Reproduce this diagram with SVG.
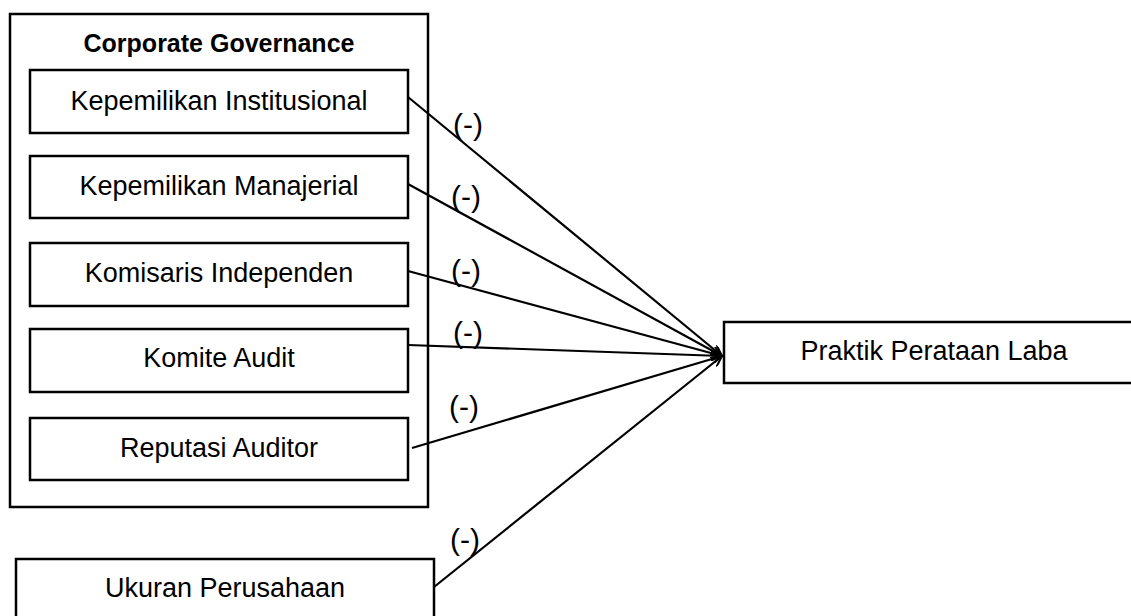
<svg xmlns="http://www.w3.org/2000/svg" width="1131" height="616" viewBox="0 0 1131 616">
<style>
.box{fill:#fff;stroke:#000;stroke-width:2.5}
.t{font-family:"Liberation Sans",Arial,sans-serif;font-size:27px;fill:#000;text-anchor:middle}
.p{font-family:"Liberation Sans",Arial,sans-serif;font-size:30px;fill:#000;text-anchor:middle}
.title{font-family:"Liberation Sans",Arial,sans-serif;font-size:25px;font-weight:bold;fill:#000;text-anchor:middle}
.c{stroke:#000;stroke-width:2.2;fill:none;marker-end:url(#ah)}
</style>
<defs>
<marker id="ah" viewBox="0 0 12 10" refX="11" refY="5" markerWidth="12" markerHeight="10" markerUnits="userSpaceOnUse" orient="auto">
<path d="M0,0 L11,5 L0,10" fill="none" stroke="#000" stroke-width="2"/>
</marker>
</defs>
<rect width="1131" height="616" fill="#fff"/>
<g id="cg">
<rect class="box" x="10" y="14" width="418" height="493"/>
<text class="title" x="219" y="52">Corporate Governance</text>
</g>
<g id="n1"><rect class="box" x="30" y="70" width="378" height="63"/><text class="t" x="219" y="110">Kepemilikan Institusional</text></g>
<g id="n2"><rect class="box" x="30" y="156" width="378" height="62"/><text class="t" x="219" y="195">Kepemilikan Manajerial</text></g>
<g id="n3"><rect class="box" x="30" y="243" width="378" height="63"/><text class="t" x="219" y="282">Komisaris Independen</text></g>
<g id="n4"><rect class="box" x="30" y="329" width="378" height="63"/><text class="t" x="219" y="367">Komite Audit</text></g>
<g id="n5"><rect class="box" x="30" y="418" width="378" height="62"/><text class="t" x="219" y="457">Reputasi Auditor</text></g>
<g id="n6"><rect class="box" x="16" y="559" width="418" height="70"/><text class="t" x="225" y="597">Ukuran Perusahaan</text></g>
<g id="n7"><rect class="box" x="724" y="322" width="420" height="61"/><text class="t" x="934" y="360">Praktik Perataan Laba</text></g>
<g id="connectors">
<line class="c" x1="408" y1="97" x2="722" y2="356"/>
<line class="c" x1="408" y1="184" x2="722" y2="356"/>
<line class="c" x1="408" y1="271" x2="722" y2="356"/>
<line class="c" x1="408" y1="345" x2="722" y2="356"/>
<line class="c" x1="412" y1="448" x2="722" y2="356"/>
<line class="c" x1="434" y1="587" x2="722" y2="356"/>
<text class="p" x="468" y="135">(-)</text>
<text class="p" x="466" y="207">(-)</text>
<text class="p" x="466" y="281">(-)</text>
<text class="p" x="468" y="343">(-)</text>
<text class="p" x="464" y="417">(-)</text>
<text class="p" x="465" y="550">(-)</text>
</g>
</svg>
